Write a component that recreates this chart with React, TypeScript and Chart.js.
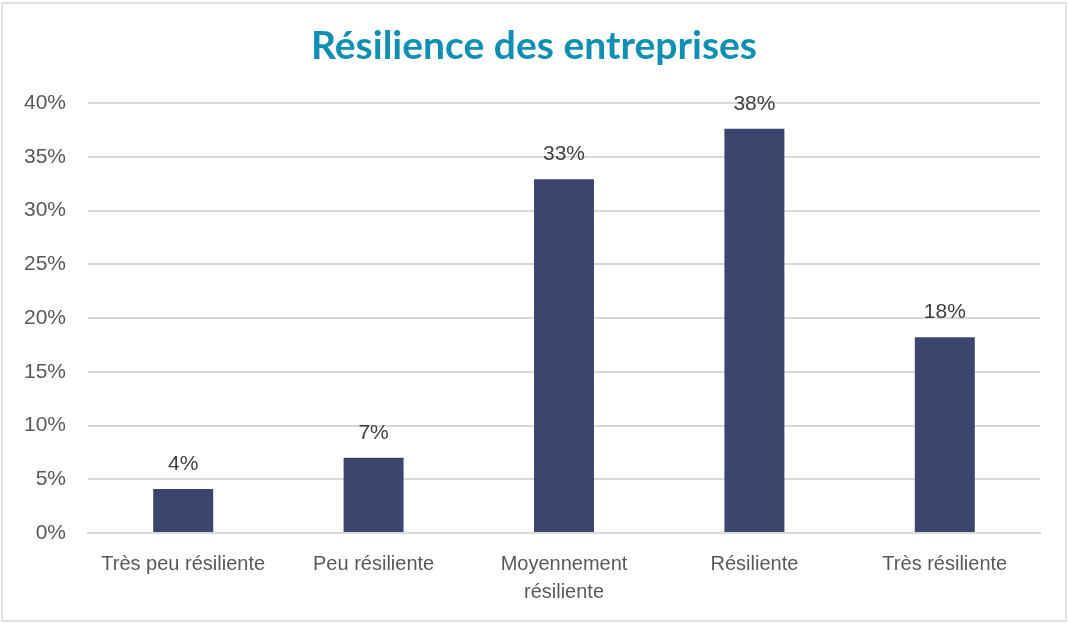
import React, { useEffect, useRef } from "react";
import { Chart, registerables } from "chart.js";

Chart.register(...registerables);

const categories: (string | string[])[] = [
  "Très peu résiliente",
  "Peu résiliente",
  ["Moyennement", "résiliente"],
  "Résiliente",
  "Très résiliente",
];
const values: number[] = [4.1, 7.0, 32.9, 37.6, 18.2];
const yTicks: number[] = [0, 5, 10, 15, 20, 25, 30, 35, 40];
const titleText = "Résilience des entreprises";

const TEXT = "#595959";
const GRID = "#d9d9d9";
const BAR = "#3c456e";
const TITLE = "#108fb3";
const FONT = "'Liberation Sans', Arial, sans-serif";

const framePlugin = {
  id: "frame",
  beforeDraw(chart: any) {
    const { ctx, width, height } = chart;
    ctx.save();
    ctx.fillStyle = "#ffffff";
    ctx.fillRect(0, 0, width, height);
    ctx.strokeStyle = "#e2e2e2";
    ctx.lineWidth = 2;
    ctx.strokeRect(2, 3, width - 4, height - 5);
    ctx.fillStyle = TITLE;
    ctx.font = `bold 39px Lato, sans-serif`;
    ctx.textAlign = "center";
    ctx.textBaseline = "alphabetic";
    ctx.fillText(titleText, width / 2, 59);
    ctx.restore();
  },
};

const labelPlugin = {
  id: "valueLabels",
  afterDatasetsDraw(chart: any) {
    const { ctx } = chart;
    const meta = chart.getDatasetMeta(0);
    ctx.save();
    ctx.font = `21px ${FONT}`;
    ctx.fillStyle = "#404040";
    ctx.textAlign = "center";
    ctx.textBaseline = "alphabetic";
    meta.data.forEach((bar: any, i: number) => {
      ctx.fillText(`${Math.round(values[i])}%`, bar.x, bar.y - 19);
    });
    ctx.restore();
  },
};

export default function App() {
  const ref = useRef<HTMLCanvasElement | null>(null);
  useEffect(() => {
    document.body.style.margin = "0";
    if (!ref.current) return;
    const chart = new Chart(ref.current, {
      type: "bar",
      data: {
        labels: categories,
        datasets: [
          {
            data: values,
            backgroundColor: BAR,
            categoryPercentage: 1,
            barPercentage: 0.315,
          },
        ],
      },
      options: {
        animation: false,
        responsive: true,
        maintainAspectRatio: false,
        layout: { padding: { left: 0, right: 28, top: 103, bottom: 0 } },
        plugins: {
          legend: { display: false },
          tooltip: { enabled: false },
          title: { display: false },
        },
        scales: {
          x: {
            grid: { display: false, drawTicks: false },
            border: { display: true, color: GRID, width: 2 },
            ticks: {
              color: TEXT,
              font: { family: FONT, size: 20, lineHeight: 1.4 },
              maxRotation: 0,
              autoSkip: false,
              padding: 17,
            },
          },
          y: {
            min: 0,
            max: 40,
            afterBuildTicks(scale: any) {
              scale.ticks = yTicks.map((v) => ({ value: v }));
            },
            afterFit(scale: any) {
              scale.width = 88;
            },
            grid: { color: GRID, lineWidth: 2, drawTicks: false },
            border: { display: false },
            ticks: {
              color: TEXT,
              font: { family: FONT, size: 21 },
              padding: 22,
              callback: (v: any) => `${v}%`,
            },
          },
        },
      },
      plugins: [framePlugin, labelPlugin],
    });
    return () => chart.destroy();
  }, []);
  return (
    <div style={{ width: 1068, height: 623, position: "relative" }}>
      <canvas ref={ref} />
    </div>
  );
}
